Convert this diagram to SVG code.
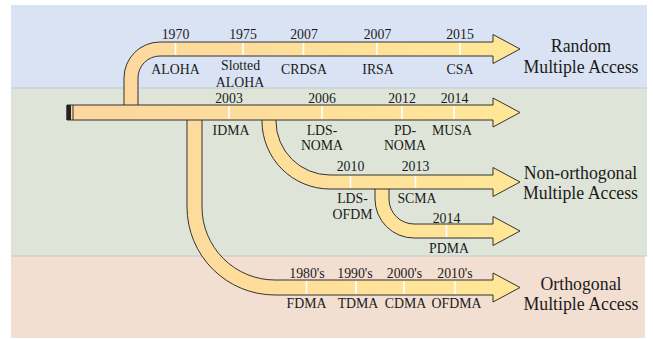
<svg xmlns="http://www.w3.org/2000/svg" width="653" height="339" viewBox="0 0 653 339">
<defs>
<linearGradient id="arrowFill" gradientUnits="userSpaceOnUse" x1="67" y1="0" x2="520" y2="0">
<stop offset="0" stop-color="#fcd69f"/>
<stop offset="1" stop-color="#ffe797"/>
</linearGradient>
<style>
.arrow{fill:url(#arrowFill);stroke:#333;stroke-width:1;stroke-linejoin:miter}
.tick{stroke:#fff;stroke-width:1.6}
text{font-family:"Liberation Serif","Times New Roman",serif;fill:#1a1a1a;text-anchor:middle}
.lbl{font-size:13.8px}
.cat{font-size:17.8px}
</style>
</defs>
<rect width="653" height="339" fill="#fff"/>
<g id="bands">
<rect x="11" y="5" width="636" height="83" fill="#dae3f3"/>
<rect x="11" y="88" width="636" height="168" fill="#dee5d8"/>
<rect x="11" y="256" width="634" height="82" fill="#f3ded2"/>
<line x1="11" y1="88" x2="647" y2="88" stroke="#c3c8cc" stroke-width="1"/>
<line x1="11" y1="256" x2="647" y2="256" stroke="#c3c8cc" stroke-width="1"/>
</g>
<g id="connectors">
<path class="arrow" d="M124,112 L124,78 A36,36 0 0 1 160,42 L493,42 L493,34.5 L520,49 L493,63.5 L493,56 L160,56 A22,22 0 0 0 138,78 L138,112 Z"/>
<path class="arrow" d="M187,112 L187,207 A88,88 0 0 0 275,295 L493,295 L493,302 L520,287.5 L493,273 L493,280 L275,280 A73,73 0 0 1 202,207 L202,112 Z"/>
<path class="arrow" d="M375,182 L375,199 A39,39 0 0 0 414,238 L493,238 L493,245.5 L520,231 L493,216.5 L493,224 L414,224 A25,25 0 0 1 389,199 L389,182 Z"/>
<path class="arrow" d="M262,112 L262,121 A68,68 0 0 0 330,189 L493,189 L493,196.5 L520,182 L493,167.5 L493,175 L330,175 A54,54 0 0 1 276,121 L276,112 Z"/>
<path class="arrow" d="M67,105 L493,105 L493,98 L520,112.5 L493,127 L493,120 L67,120 Z"/>
<rect x="66.5" y="105" width="4.5" height="15" fill="#222"/>
<line x1="73" y1="105" x2="73" y2="120" stroke="#333" stroke-width="1"/>
</g>
<g id="ticks">
<line class="tick" x1="175.5" y1="43" x2="175.5" y2="55"/>
<line class="tick" x1="243" y1="43" x2="243" y2="55"/>
<line class="tick" x1="303.5" y1="43" x2="303.5" y2="55"/>
<line class="tick" x1="377" y1="43" x2="377" y2="55"/>
<line class="tick" x1="460" y1="43" x2="460" y2="55"/>
<line class="tick" x1="229" y1="106" x2="229" y2="119"/>
<line class="tick" x1="322" y1="106" x2="322" y2="119"/>
<line class="tick" x1="402" y1="106" x2="402" y2="119"/>
<line class="tick" x1="454" y1="106" x2="454" y2="119"/>
<line class="tick" x1="350.5" y1="176" x2="350.5" y2="188"/>
<line class="tick" x1="415.5" y1="176" x2="415.5" y2="188"/>
<line class="tick" x1="446.5" y1="225" x2="446.5" y2="237"/>
<line class="tick" x1="306.5" y1="281" x2="306.5" y2="294"/>
<line class="tick" x1="356" y1="281" x2="356" y2="294"/>
<line class="tick" x1="404" y1="281" x2="404" y2="294"/>
<line class="tick" x1="455" y1="281" x2="455" y2="294"/>
</g>
<g id="random-nodes">
<g id="aloha"><text class="lbl" x="175.5" y="38.5">1970</text><text class="lbl" x="175.5" y="73.5">ALOHA</text></g>
<g id="slotted-aloha"><text class="lbl" x="243" y="38.5">1975</text><text class="lbl" x="240.5" y="69.5">Slotted</text><text class="lbl" x="240" y="86.5">ALOHA</text></g>
<g id="crdsa"><text class="lbl" x="304" y="38.5">2007</text><text class="lbl" x="304" y="73.5">CRDSA</text></g>
<g id="irsa"><text class="lbl" x="377.5" y="38.5">2007</text><text class="lbl" x="378" y="73.5">IRSA</text></g>
<g id="csa"><text class="lbl" x="460" y="38.5">2015</text><text class="lbl" x="460" y="73.5">CSA</text></g>
</g>
<g id="noma-nodes">
<g id="idma"><text class="lbl" x="229" y="102.5">2003</text><text class="lbl" x="231" y="134.5">IDMA</text></g>
<g id="lds-noma"><text class="lbl" x="322" y="102.5">2006</text><text class="lbl" x="322" y="134.5">LDS-</text><text class="lbl" x="322" y="150">NOMA</text></g>
<g id="pd-noma"><text class="lbl" x="402" y="102.5">2012</text><text class="lbl" x="405" y="134.5">PD-</text><text class="lbl" x="405" y="150">NOMA</text></g>
<g id="musa"><text class="lbl" x="454.5" y="102.5">2014</text><text class="lbl" x="452" y="134.5">MUSA</text></g>
<g id="lds-ofdm"><text class="lbl" x="350.5" y="171">2010</text><text class="lbl" x="352.5" y="203">LDS-</text><text class="lbl" x="352.5" y="218.5">OFDM</text></g>
<g id="scma"><text class="lbl" x="415.5" y="171">2013</text><text class="lbl" x="417" y="203">SCMA</text></g>
<g id="pdma"><text class="lbl" x="446.5" y="222.5">2014</text><text class="lbl" x="449" y="253">PDMA</text></g>
</g>
<g id="oma-nodes">
<g id="fdma"><text class="lbl" x="307" y="278">1980's</text><text class="lbl" x="306.5" y="308">FDMA</text></g>
<g id="tdma"><text class="lbl" x="355" y="278">1990's</text><text class="lbl" x="358" y="308">TDMA</text></g>
<g id="cdma"><text class="lbl" x="404.5" y="278">2000's</text><text class="lbl" x="405.5" y="308">CDMA</text></g>
<g id="ofdma"><text class="lbl" x="455" y="278">2010's</text><text class="lbl" x="456.5" y="308">OFDMA</text></g>
</g>
<g id="categories">
<g id="random-ma"><text class="cat" x="581" y="52">Random</text><text class="cat" x="581" y="72.5">Multiple Access</text></g>
<g id="non-orthogonal-ma"><text class="cat" x="580.5" y="178.5">Non-orthogonal</text><text class="cat" x="580.5" y="199">Multiple Access</text></g>
<g id="orthogonal-ma"><text class="cat" x="581" y="290">Orthogonal</text><text class="cat" x="581" y="310">Multiple Access</text></g>
</g>
</svg>
